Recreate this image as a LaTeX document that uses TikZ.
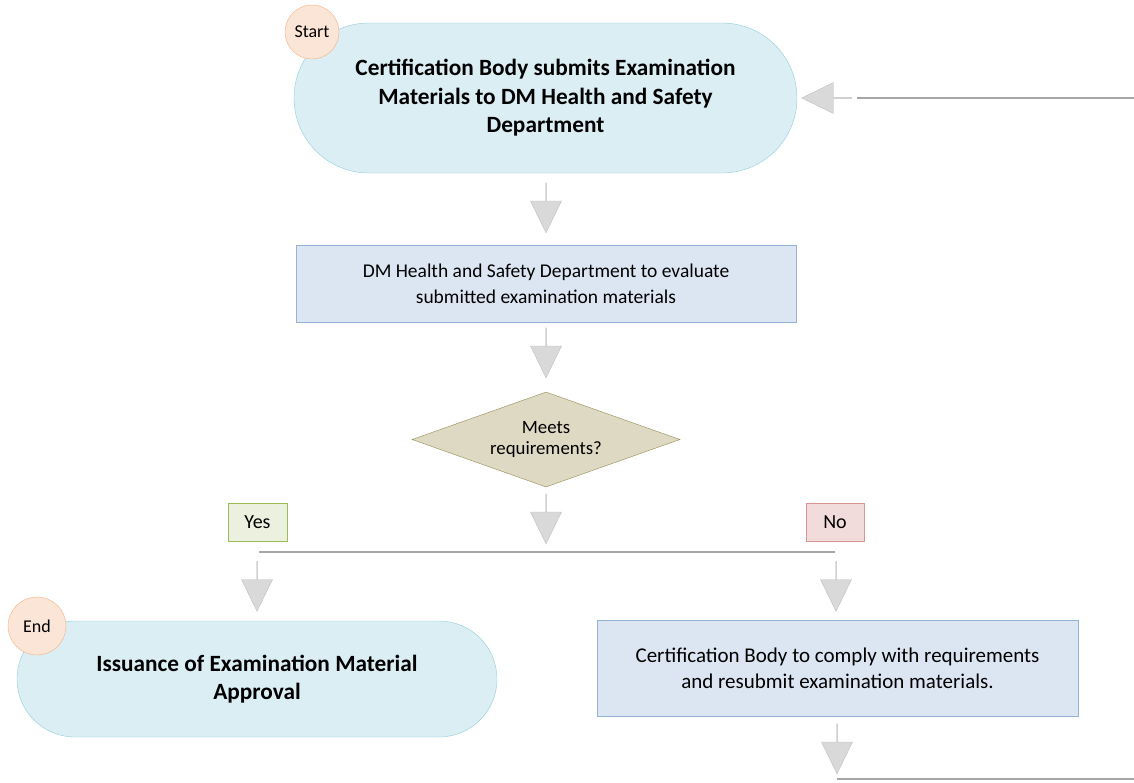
\documentclass[tikz,border=0pt]{standalone}
\usepackage{fontspec}
\setmainfont{Carlito}
\usetikzlibrary{shapes.geometric,shapes.misc,shapes.arrows}

\definecolor{termfill}{HTML}{DAEEF3}
\definecolor{termline}{HTML}{92CDDC}
\definecolor{tagfill}{HTML}{FBE5D6}
\definecolor{tagline}{HTML}{F4B183}
\definecolor{boxfill}{HTML}{DCE6F2}
\definecolor{boxline}{HTML}{95B3D7}
\definecolor{diafill}{HTML}{DDD9C3}
\definecolor{dialine}{HTML}{948A54}
\definecolor{arrfill}{HTML}{D9D9D9}
\definecolor{arrline}{HTML}{BFBFBF}
\definecolor{flowgray}{HTML}{A6A6A6}
\definecolor{yesfill}{HTML}{EBF1DE}
\definecolor{yesline}{HTML}{9BBB59}
\definecolor{nofill}{HTML}{F2DCDB}
\definecolor{noline}{HTML}{D99694}

\tikzset{
  term/.style={rounded rectangle, draw=termline, fill=termfill, align=center,
    font=\fontsize{23.3}{28.5}\selectfont\bfseries, inner sep=0pt},
  tag/.style={circle, draw=tagline, fill=tagfill, inner sep=0pt,
    font=\fontsize{18}{20}\selectfont},
  procbox/.style={rectangle, draw=boxline, fill=boxfill, align=center, inner sep=0pt},
  decision/.style={diamond, draw=dialine, fill=diafill, align=center,
    font=\fontsize{18.8}{21}\selectfont, inner sep=0pt, shape aspect=2.82},
  answer/.style={rectangle, inner sep=0pt, minimum height=38pt,
    font=\fontsize{20}{22}\selectfont},
  blockarrow/.style={single arrow, draw=arrline, fill=arrfill, inner sep=0pt,
    minimum height=50pt, minimum width=31pt, single arrow head extend=10pt,
    single arrow tip angle=52},
  flowline/.style={draw=flowgray, line width=2pt}
}

\begin{document}
\begin{tikzpicture}

  \useasboundingbox (0pt,0pt) rectangle (1134pt,-782pt);

  % main column
  \node[term, minimum width=503pt, minimum height=150pt] (submit) at (545.5pt,-98pt)
    {Certification Body submits Examination\\Materials to DM Health and Safety\\Department};
  \node[tag, minimum size=54pt] (start) at (312pt,-32pt) {Start};

  \node[procbox, minimum width=500pt, minimum height=77pt,
    font=\fontsize{19.5}{26}\selectfont] (evaluate) at (546pt,-283.5pt)
    {DM Health and Safety Department to evaluate\\submitted examination materials};

  \node[decision, minimum width=268pt, minimum height=95pt] (meets) at (546pt,-439.5pt)
    {Meets\\requirements?};

  % answers
  \node[answer, draw=yesline, fill=yesfill, minimum width=59pt] (yes) at (257.5pt,-522pt) {Yes};
  \node[answer, draw=noline, fill=nofill, minimum width=58pt] (no) at (835pt,-522pt) {No};

  \node[term, minimum width=480pt, minimum height=116pt] (issue) at (257pt,-679pt)
    {Issuance of Examination Material\\Approval};
  \node[tag, minimum size=58pt] (end) at (37pt,-626pt) {End};

  \node[procbox, minimum width=481pt, minimum height=96pt,
    font=\fontsize{21}{26}\selectfont] (comply) at (837.5pt,-668pt)
    {Certification Body to comply with requirements\\and resubmit examination materials.};

  % block arrows
  \node[blockarrow, rotate=-90] (a1) at (546pt,-207.5pt) {};
  \node[blockarrow, rotate=-90] (a2) at (546pt,-352.5pt) {};
  \node[blockarrow, rotate=-90] (a3) at (546pt,-518.5pt) {};
  \node[blockarrow, rotate=-90] (a4) at (257pt,-586pt) {};
  \node[blockarrow, rotate=-90] (a5) at (836pt,-586pt) {};
  \node[blockarrow, rotate=-90] (a6) at (837pt,-748.5pt) {};
  \node[blockarrow, rotate=180] (a7) at (827pt,-98pt) {};

  % branch and loop lines
  \coordinate (branchL) at (259pt,-552pt);
  \coordinate (branchR) at (835pt,-552pt);
  \coordinate (loopin) at (1134pt,-98pt);
  \coordinate (loopstart) at (837pt,-779pt);
  \coordinate (loopout) at (1134pt,-779pt);

  \draw[flowline] (branchL) -- (branchR);
  \draw[flowline] ([xshift=5pt]a7.tail) -- (loopin);
  \draw[flowline] (loopstart) -- (loopout);

\end{tikzpicture}
\end{document}
